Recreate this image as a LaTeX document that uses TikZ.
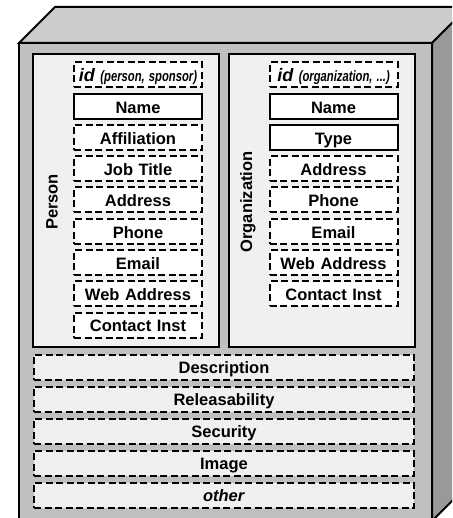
\documentclass[tikz,border=0pt]{standalone}
\usepackage{fontspec}
\setmainfont{Liberation Sans}
\usepackage{tikz}
\usetikzlibrary{arrows,shapes}
\definecolor{frontgray}{RGB}{192, 192, 192}
\definecolor{topgray}{RGB}{204, 204, 204}
\definecolor{sidegray}{RGB}{153, 153, 153}
\definecolor{panelgray}{RGB}{240, 240, 240}
\tikzstyle{panel}=[rectangle, draw, line width=2pt, fill=panelgray, minimum width=186pt, minimum height=293pt, inner sep=0pt]
\tikzstyle{caption}=[font=\fontsize{16.5}{18}\selectfont\bfseries, inner sep=0pt]
\tikzstyle{field}=[rectangle, draw, line width=2pt, fill=white, text width=128pt, text centered, minimum height=25pt, inner sep=0pt, text height=13.8pt, text depth=0pt, font=\fontsize{16.5}{18}\selectfont\bfseries]
\tikzstyle{optfield}=[field, dash pattern=on 7pt off 3.5pt]
\tikzstyle{strip}=[optfield, fill=panelgray, text width=380pt]
\newcommand{\idtext}[1]{{\fontsize{18}{18}\selectfont\itshape id} \scalebox{0.75}[1]{\fontsize{15}{15}\selectfont\itshape(#1)}}

\begin{document}
\begin{tikzpicture}[x=1pt, y=1pt, node distance=31.25pt, line width=2pt]
      %
      \clip (0,0) rectangle (452,-518);
      %
      % Box: front, top and side faces
      %
      \path[draw, fill=frontgray] (19,-43) rectangle (432,-521);
      \path[draw, fill=topgray] (19,-43) -- (55,-7) -- (468,-7) -- (432,-43) -- cycle;
      \path[draw, fill=sidegray] (432,-43) -- (468,-7) -- (468,-485) -- (432,-521) -- cycle;
      %
      % Panels
      %
      \path node[panel] (person) at (126,-200.5) {};
      \path node[panel] (organization) at (322,-200.5) {};
      \path node[caption, rotate=90] (personlabel) at (52,-202) {Person};
      \path node[caption, rotate=90] (orglabel) at (248,-202) {Organization};
      %
      % Person --> fields
      %
      \path node[optfield] (pid) at (138,-75) {\idtext{person, sponsor}};
      \path node[field, below of=pid] (pname) {Name};
      \path node[optfield, below of=pname] (paffil) {Affiliation};
      \path node[optfield, below of=paffil] (pjob) {Job Title};
      \path node[optfield, below of=pjob] (paddress) {Address};
      \path node[optfield, below of=paddress] (pphone) {Phone};
      \path node[optfield, below of=pphone] (pemail) {Email};
      \path node[optfield, below of=pemail] (pweb) {Web Address};
      \path node[optfield, below of=pweb] (pcontact) {Contact Inst};
      %
      % Organization --> fields
      %
      \path node[optfield] (oid) at (333.5,-75) {\idtext{organization, ...}};
      \path node[field, below of=oid] (oname) {Name};
      \path node[field, below of=oname] (otype) {Type};
      \path node[optfield, below of=otype] (oaddress) {Address};
      \path node[optfield, below of=oaddress] (ophone) {Phone};
      \path node[optfield, below of=ophone] (oemail) {Email};
      \path node[optfield, below of=oemail] (oweb) {Web Address};
      \path node[optfield, below of=oweb] (ocontact) {Contact Inst};
      %
      % Shared strips
      %
      \path node[strip] (description) at (224,-367) {Description};
      \path node[strip, node distance=32pt, below of=description] (release) {Releasability};
      \path node[strip, node distance=32pt, below of=release] (security) {Security};
      \path node[strip, node distance=32pt, below of=security] (image) {Image};
      \path node[strip, node distance=32pt, below of=image] (other) {\textit{other}};
      %
\end{tikzpicture}
\end{document}
